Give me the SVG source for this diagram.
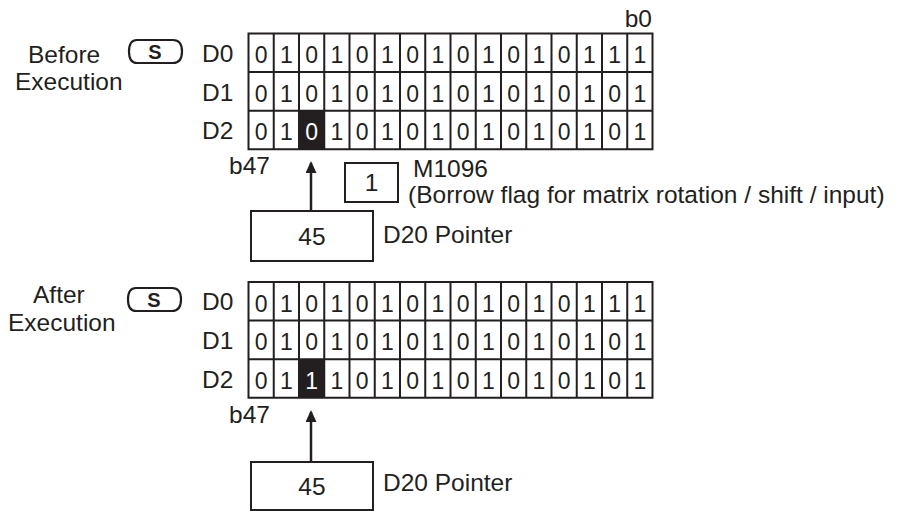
<svg xmlns="http://www.w3.org/2000/svg" width="898" height="511" viewBox="0 0 898 511">
<style>
text{font-family:"Liberation Sans",Arial,sans-serif;fill:#231f20;}
.lbl{font-size:24.5px;}
.dig{font-size:23px;text-anchor:middle;}
.mid{text-anchor:middle;}
.grid{fill:none;stroke:#231f20;stroke-width:2;}
.box{fill:#fff;stroke:#231f20;stroke-width:2;}
.pill{fill:none;stroke:#231f20;stroke-width:2.2;}
.s{font-size:20px;font-weight:bold;text-anchor:middle;}
.inv{fill:#fff;}
.blk{fill:#231f20;}
.conn{stroke:#231f20;stroke-width:2.5;fill:none;}
</style>
<defs>
<marker id="ah" markerWidth="12" markerHeight="11" refX="10" refY="5.5" orient="auto" markerUnits="userSpaceOnUse" viewBox="0 0 12 11">
<path d="M0 0 L12 5.5 L0 11 Z" fill="#231f20"/>
</marker>
<g id="gridlines">
<path class="grid" d="M248.5 0 H652.5 V115.8 H248.5 Z M248.5 38.6 H652.5 M248.5 77.2 H652.5 M273.75 0 V115.8 M299 0 V115.8 M324.25 0 V115.8 M349.5 0 V115.8 M374.75 0 V115.8 M400 0 V115.8 M425.25 0 V115.8 M450.5 0 V115.8 M475.75 0 V115.8 M501 0 V115.8 M526.25 0 V115.8 M551.5 0 V115.8 M576.75 0 V115.8 M602 0 V115.8 M627.25 0 V115.8"/>
</g>
</defs>

<g id="before-label">
<text class="lbl" x="28" y="63">Before</text>
<text class="lbl" x="15" y="90">Execution</text>
</g>
<g id="before-s">
<path class="pill" d="M137 40 H173 Q182 40 182 51.5 Q182 63 173 63 H137 Q129 63 129 51.5 Q129 40 137 40 Z"/>
<text class="s" x="155" y="58.5">S</text>
</g>
<g id="before-grid">
<text class="lbl" x="652" y="27" text-anchor="end">b0</text>
<text class="lbl" x="202" y="62">D0</text>
<text class="lbl" x="202" y="100.5">D1</text>
<text class="lbl" x="202" y="139">D2</text>
<rect class="blk" x="299" y="110.7" width="25.25" height="38.6"/>
<use href="#gridlines" transform="translate(0,33.5)"/>
<text class="dig" x="261.1 286.4 311.6 336.9 362.1 387.4 412.6 437.9 463.1 488.4 513.6 538.9 564.1 589.4 614.6 639.9" y="63">0101010101010111</text>
<text class="dig" x="261.1 286.4 311.6 336.9 362.1 387.4 412.6 437.9 463.1 488.4 513.6 538.9 564.1 589.4 614.6 639.9" y="101.6">0101010101010101</text>
<text class="dig" x="261.1 286.4 311.6 336.9 362.1 387.4 412.6 437.9 463.1 488.4 513.6 538.9 564.1 589.4 614.6 639.9" y="140.2">01<tspan class="inv">0</tspan>1010101010101</text>
<text class="lbl" x="229" y="174">b47</text>
</g>
<g id="borrow-flag">
<rect class="box" x="345" y="163" width="53" height="39"/>
<text class="lbl mid" x="371.5" y="191">1</text>
<text class="lbl" x="413" y="177">M1096</text>
<text class="lbl" x="408" y="203">(Borrow flag for matrix rotation / shift / input)</text>
</g>
<g id="before-pointer">
<rect class="box" x="251" y="211" width="122" height="50"/>
<text class="lbl mid" x="312" y="244.5">45</text>
<text class="lbl" x="383" y="243">D20 Pointer</text>
</g>

<g id="after-label">
<text class="lbl" x="33" y="303">After</text>
<text class="lbl" x="8" y="331">Execution</text>
</g>
<g id="after-s">
<path class="pill" d="M136 288 H172 Q181 288 181 299.5 Q181 311 172 311 H136 Q128 311 128 299.5 Q128 288 136 288 Z"/>
<text class="s" x="154" y="306.5">S</text>
</g>
<g id="after-grid">
<text class="lbl" x="202" y="310">D0</text>
<text class="lbl" x="202" y="348.5">D1</text>
<text class="lbl" x="202" y="387.5">D2</text>
<rect class="blk" x="299" y="359.2" width="25.25" height="38.6"/>
<use href="#gridlines" transform="translate(0,282)"/>
<text class="dig" x="261.1 286.4 311.6 336.9 362.1 387.4 412.6 437.9 463.1 488.4 513.6 538.9 564.1 589.4 614.6 639.9" y="311.5">0101010101010111</text>
<text class="dig" x="261.1 286.4 311.6 336.9 362.1 387.4 412.6 437.9 463.1 488.4 513.6 538.9 564.1 589.4 614.6 639.9" y="350.1">0101010101010101</text>
<text class="dig" x="261.1 286.4 311.6 336.9 362.1 387.4 412.6 437.9 463.1 488.4 513.6 538.9 564.1 589.4 614.6 639.9" y="388.7">01<tspan class="inv">1</tspan>1010101010101</text>
<text class="lbl" x="229" y="423">b47</text>
</g>
<g id="after-pointer">
<rect class="box" x="251" y="462" width="122" height="48"/>
<text class="lbl mid" x="312" y="494.5">45</text>
<text class="lbl" x="383" y="491">D20 Pointer</text>
</g>

<g id="connectors">
<path class="conn" d="M311 211 V163" marker-end="url(#ah)"/>
<path class="conn" d="M311 462 V412" marker-end="url(#ah)"/>
</g>
</svg>
